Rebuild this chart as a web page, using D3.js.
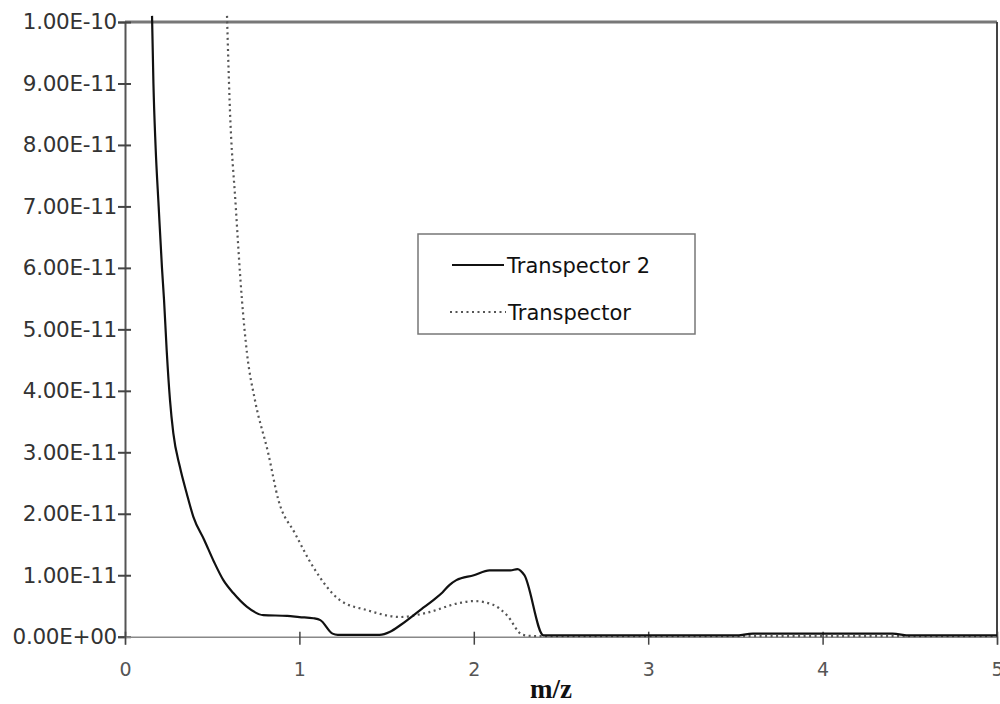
<!DOCTYPE html>
<html><head><meta charset="utf-8">
<script src="https://cdn.jsdelivr.net/npm/d3@7"></script>
<style>body{margin:0;background:#fff}</style>
</head><body>
<svg id="c" width="1000" height="704"></svg>
<script>
// Data (values in units of 1e-11)
const t2X = [0.155,0.163,0.175,0.193,0.212,0.224,0.239,0.258,0.277,0.315,0.354,0.392,0.455,0.51,0.564,0.621,0.698,0.793,0.93,1.0,1.08,1.12,1.19,1.22,1.46,1.52,1.58,1.70,1.77,1.82,1.86,1.90,2.0,2.09,2.21,2.25,2.29,2.40,3.5,3.6,4.4,4.5,5.0];
const t2Y = [10.1,9.0,8.0,7.0,6.0,5.47,4.66,3.85,3.31,2.76,2.33,1.95,1.57,1.22,0.92,0.71,0.49,0.35,0.34,0.32,0.30,0.27,0.05,0.03,0.03,0.08,0.19,0.45,0.6,0.72,0.84,0.92,1.0,1.08,1.08,1.1,1.0,0.02,0.02,0.05,0.05,0.02,0.02];
const t1X = [0.585,0.60,0.635,0.67,0.70,0.745,0.82,0.88,0.975,1.08,1.23,1.39,1.58,1.73,1.92,2.0,2.11,2.19,2.28,2.35,5.0];
const t1Y = [10.1,8.7,7.0,5.5,4.6,3.85,3.0,2.22,1.68,1.13,0.6,0.43,0.32,0.39,0.55,0.58,0.52,0.35,0.03,0.01,0.01];
const seriesNames = ["Transpector 2","Transpector"];
const yTickValues = [0,1,2,3,4,5,6,7,8,9,10];
const yTickLabels = ["0.00E+00","1.00E-11","2.00E-11","3.00E-11","4.00E-11","5.00E-11","6.00E-11","7.00E-11","8.00E-11","9.00E-11","1.00E-10"];
const xTickValues = [0,1,2,3,4,5];
const xTitle = "m/z";

const svg = d3.select("#c");
const L = 125, R = 997, T = 22, B = 636.7;
const x = d3.scaleLinear().domain([0,5]).range([L,R]);
const y = d3.scaleLinear().domain([0,10]).range([B,T]);

// frame top/right
svg.append("line").attr("x1",L).attr("x2",R).attr("y1",T).attr("y2",T).attr("stroke","#777").attr("stroke-width",3);
svg.append("line").attr("x1",R).attr("x2",R).attr("y1",T).attr("y2",B).attr("stroke","#444").attr("stroke-width",2);

// y axis
const yAx = svg.append("g").attr("transform",`translate(${L},0)`)
  .call(d3.axisLeft(y).tickValues(yTickValues).tickSize(7).tickFormat((d,i)=>yTickLabels[i]));
yAx.select(".domain").attr("stroke","#555").attr("stroke-width",2);
yAx.selectAll(".tick line").attr("x1",6).attr("x2",-7).attr("stroke","#444").attr("stroke-width",2);
yAx.selectAll(".tick text").attr("x",-8).attr("font-family","DejaVu Sans").attr("font-size",21.5).attr("fill","#333").attr("letter-spacing","-0.3");

// x axis
const xAx = svg.append("g").attr("transform",`translate(0,${B})`)
  .call(d3.axisBottom(x).tickValues(xTickValues).tickSize(8).tickFormat(d3.format("d")));
xAx.select(".domain").attr("stroke","#888").attr("stroke-width",1.5);
xAx.selectAll(".tick line").attr("y1",-5).attr("y2",8).attr("stroke","#444").attr("stroke-width",1.5);
xAx.selectAll(".tick text").attr("y",26).attr("font-family","DejaVu Sans").attr("font-size",19).attr("fill","#555");

svg.append("text").attr("x",551).attr("y",698).attr("text-anchor","middle")
  .attr("font-family","Liberation Serif").attr("font-weight","bold").attr("font-size",27).attr("fill","#111").text(xTitle);

const line = d3.line().x(d=>x(d[0])).y(d=>y(d[1])).curve(d3.curveMonotoneX);
svg.append("path").datum(t1X.map((v,i)=>[v,t1Y[i]])).attr("d",line)
  .attr("fill","none").attr("stroke","#555").attr("stroke-width",2.2).attr("stroke-dasharray","2,3.5");
svg.append("path").datum(t2X.map((v,i)=>[v,t2Y[i]])).attr("d",line)
  .attr("fill","none").attr("stroke","#111").attr("stroke-width",2.2);

// legend
const lg = svg.append("g");
lg.append("rect").attr("x",418).attr("y",234).attr("width",277).attr("height",100).attr("fill","#fff").attr("stroke","#777").attr("stroke-width",1.5);
lg.append("line").attr("x1",452).attr("x2",504).attr("y1",265).attr("y2",265).attr("stroke","#111").attr("stroke-width",2.2);
lg.append("line").attr("x1",450).attr("x2",506).attr("y1",312).attr("y2",312).attr("stroke","#555").attr("stroke-width",2).attr("stroke-dasharray","2,3.5");
lg.append("text").attr("x",507).attr("y",273).attr("font-family","DejaVu Sans").attr("font-size",21).attr("fill","#111").text(seriesNames[0]);
lg.append("text").attr("x",508).attr("y",320).attr("font-family","DejaVu Sans").attr("font-size",21).attr("fill","#111").text(seriesNames[1]);
</script>
</body></html>
